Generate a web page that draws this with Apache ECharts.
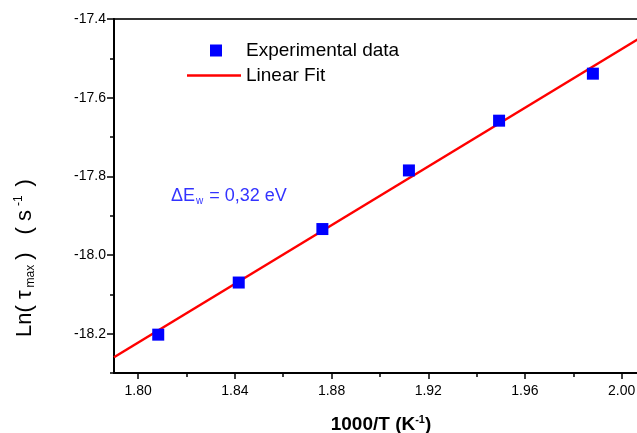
<!DOCTYPE html>
<html>
<head>
<meta charset="utf-8">
<script src="https://cdn.jsdelivr.net/npm/echarts@6/dist/echarts.min.js"></script>
<style>
html,body{margin:0;padding:0;background:#fff;overflow:hidden;width:637px;height:433px;}
#c{width:672px;height:433px;}
</style>
</head>
<body>
<div id="c"></div>
<script>
// Data
const xData = [1.8083, 1.8416, 1.8762, 1.9120, 1.9493, 1.9881];
const yData = [-18.2025, -18.070, -17.934, -17.785, -17.6585, -17.539];
const fitX = [1.79, 2.02];
const fitY = [-18.260, -17.402];
const xTicks = [1.80, 1.84, 1.88, 1.92, 1.96, 2.00];
const xMinorTicks = [1.82, 1.86, 1.90, 1.94, 1.98];
const yTicks = [-18.2, -18.0, -17.8, -17.6, -17.4];
const yMinorTicks = [-18.3, -18.1, -17.9, -17.7, -17.5];

const FONT = '"Liberation Sans", Arial, sans-serif';
const chart = echarts.init(document.getElementById('c'), null, {renderer: 'canvas'});

const scatterData = xData.map((x, i) => [x, yData[i]]);
const fitData = fitX.map((x, i) => [x, fitY[i]]);

chart.setOption({
  animation: false,
  backgroundColor: '#fff',
  grid: {left: 114, top: 19, width: 556, height: 354, show: true, borderColor: '#333', borderWidth: 2, backgroundColor: 'transparent'},
  xAxis: [
    {
      type: 'value', min: 1.79, max: 2.02, position: 'bottom',
      axisLine: {show: true, onZero: false, lineStyle: {color: '#000', width: 2}},
      axisTick: {show: true, length: 6, customValues: xTicks, lineStyle: {color: '#000', width: 1.5}},
      axisLabel: {show: true, customValues: xTicks, margin: 11, fontSize: 14, color: '#000', fontFamily: FONT, formatter: v => v.toFixed(2)},
      splitLine: {show: false}
    },
    {
      type: 'value', min: 1.79, max: 2.02, position: 'bottom', gridIndex: 0,
      axisLine: {show: false},
      axisTick: {show: true, length: 4, customValues: xMinorTicks, lineStyle: {color: '#000', width: 1.5}},
      axisLabel: {show: false},
      splitLine: {show: false}
    }
  ],
  yAxis: [
    {
      type: 'value', min: -18.3, max: -17.4, position: 'left',
      axisLine: {show: true, onZero: false, lineStyle: {color: '#000', width: 2}},
      axisTick: {show: true, length: 7, customValues: yTicks, lineStyle: {color: '#000', width: 1.5}},
      axisLabel: {show: true, customValues: yTicks, margin: 8, fontSize: 14, color: '#000', fontFamily: FONT, formatter: v => v.toFixed(1)},
      splitLine: {show: false}
    },
    {
      type: 'value', min: -18.3, max: -17.4, position: 'left',
      axisLine: {show: false},
      axisTick: {show: true, length: 4, customValues: yMinorTicks, lineStyle: {color: '#000', width: 1.5}},
      axisLabel: {show: false},
      splitLine: {show: false}
    }
  ],
  legend: [
    {
      data: ['Experimental data'], left: 210, top: 41, padding: 0,
      itemWidth: 12, itemHeight: 12,
      textStyle: {fontSize: 19, color: '#000', fontFamily: FONT, padding: [0, 0, 0, 19]}
    },
    {
      data: [{name: 'Linear Fit', icon: 'rect'}], left: 187, top: 66, padding: 0,
      itemWidth: 54, itemHeight: 2.5,
      textStyle: {fontSize: 19, color: '#000', fontFamily: FONT}
    }
  ],
  series: [
    {
      name: 'Linear Fit', type: 'line', data: fitData, xAxisIndex: 0, yAxisIndex: 0,
      showSymbol: false, symbol: 'none',
      lineStyle: {color: '#ff0000', width: 2.5}, itemStyle: {color: '#ff0000'}, z: 2
    },
    {
      name: 'Experimental data', type: 'scatter', data: scatterData, xAxisIndex: 0, yAxisIndex: 0,
      symbol: 'rect', symbolSize: 12, itemStyle: {color: '#0000ff', opacity: 1}, z: 3
    }
  ],
  graphic: [
    {
      type: 'text', left: 171, top: 187,
      style: {
        text: '{a|ΔE}{s|w}{a| = 0,32 eV}',
        fill: '#3333ff',
        rich: {
          a: {fontSize: 18, fontFamily: FONT, fill: '#3333ff'},
          s: {fontSize: 10, fontFamily: FONT, fill: '#3333ff', padding: [11, 1, 0, 1]}
        }
      }
    },
    {
      type: 'text', x: 25, y: 255, rotation: Math.PI / 2,
      style: {
        text: '{a|Ln(}{t|τ}{s|max}{b|)}{g|}{c|(}{t|s}{p|-1}{b|)}',
        align: 'center', verticalAlign: 'middle',
        fill: '#000',
        rich: {
          a: {fontSize: 22, fontFamily: FONT, fill: '#000', padding: [0, 6, 0, 0]},
          b: {fontSize: 22, fontFamily: FONT, fill: '#000', padding: [0, 6, 0, 5]},
          c: {fontSize: 22, fontFamily: FONT, fill: '#000', padding: [0, 6, 0, 0]},
          g: {fontSize: 22, fontFamily: FONT, width: 12},
          t: {fontSize: 22, fontFamily: FONT, fill: '#000', padding: [0, 3, 0, 0]},
          s: {fontSize: 12, fontFamily: FONT, fill: '#000', padding: [12, 0, 0, 0]},
          p: {fontSize: 12, fontFamily: FONT, fill: '#000', padding: [0, 4, 12, 1]}
        }
      }
    },
    {
      type: 'text', x: 381, y: 425,
      style: {
        text: '{a|1000/T (K}{p|-1}{a|)}',
        align: 'center', verticalAlign: 'middle',
        fill: '#000',
        rich: {
          a: {fontSize: 19, fontWeight: 'bold', fontFamily: FONT, fill: '#000'},
          p: {fontSize: 11, fontWeight: 'bold', fontFamily: FONT, fill: '#000', padding: [0, 0, 10, 0]}
        }
      }
    }
  ]
});
</script>
</body>
</html>
